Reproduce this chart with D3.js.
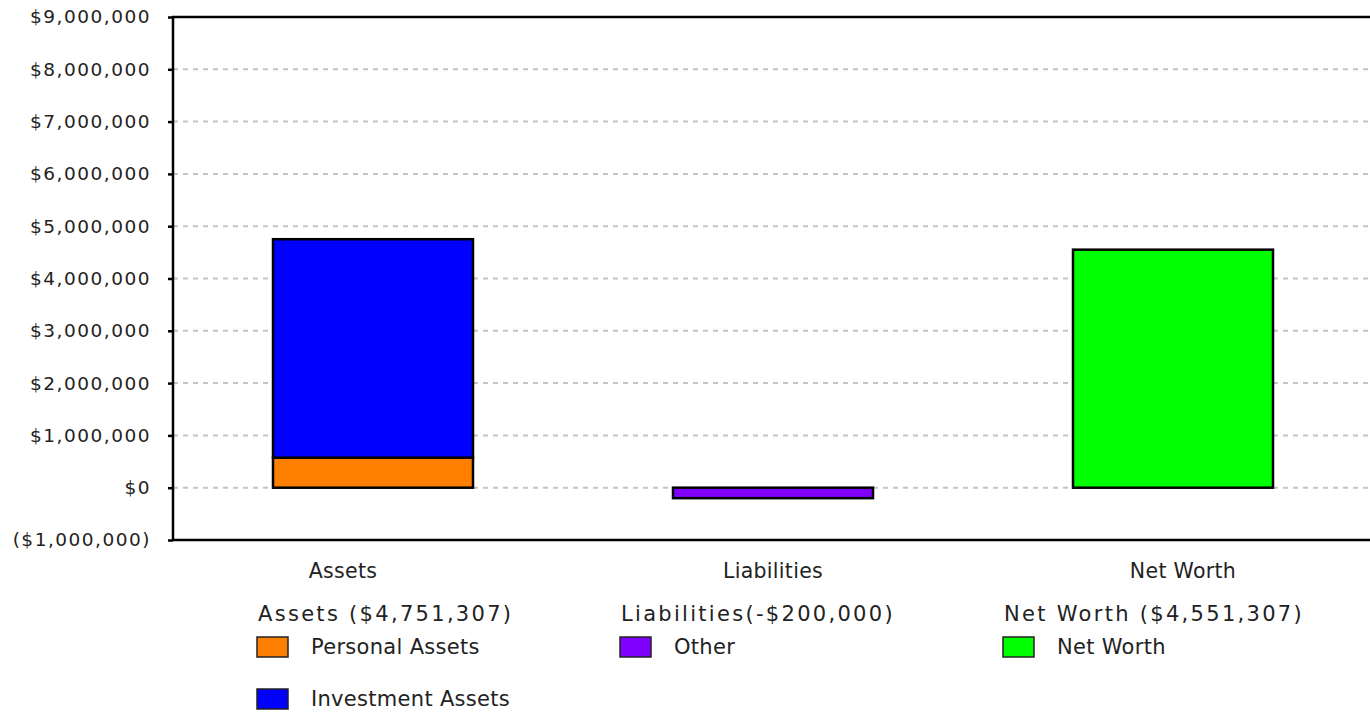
<!DOCTYPE html>
<html>
<head>
<meta charset="utf-8">
<script src="https://cdn.jsdelivr.net/npm/d3@7"></script>
<style>
  body { margin: 0; background: #fff; }
  text { font-family: "DejaVu Sans", Verdana, sans-serif; fill: #222; }
</style>
</head>
<body>
<script>
// chart data
const categories = ["Assets", "Liabilities", "Net Worth"];
const seriesNames = ["Personal Assets", "Investment Assets", "Other", "Net Worth"];
const seriesCategory = ["Assets", "Assets", "Liabilities", "Net Worth"];
const seriesValues = [575000, 4176307, -200000, 4551307];
const seriesColors = ["#ff8000", "#0000ff", "#8000ff", "#00ff00"];
const groupTitles = ["Assets ($4,751,307)", "Liabilities(-$200,000)", "Net Worth ($4,551,307)"];
const yTicks = [-1000000, 0, 1000000, 2000000, 3000000, 4000000, 5000000, 6000000, 7000000, 8000000, 9000000];

const W = 1370, H = 714;
const plotLeft = 173, plotTop = 17, plotBottom = 540;

let svg = d3.select("body").append("svg")
  .attr("width", W)
  .attr("height", H);

let y = d3.scaleLinear().domain([-1000000, 9000000]).range([plotBottom, plotTop]);
let x = d3.scaleBand().domain(categories).range([plotLeft, plotLeft + 1200])
  .paddingInner(0.5).paddingOuter(0.25);

const money = v => v < 0 ? "($" + d3.format(",")(-v) + ")" : "$" + d3.format(",")(v);

// gridlines
svg.selectAll()
  .data(yTicks.filter(t => t > -1000000 && t < 9000000))
  .enter()
  .append("line")
  .attr("x1", plotLeft).attr("x2", W)
  .attr("y1", d => y(d)).attr("y2", d => y(d))
  .attr("stroke", "#c4c4c4")
  .attr("stroke-width", 2)
  .attr("stroke-dasharray", "5,5");

// y axis
let yAxis = svg.append("g")
  .attr("transform", `translate(${plotLeft},0)`)
  .call(d3.axisLeft(y).tickValues(yTicks).tickFormat(money).tickSize(5).tickPadding(17));
yAxis.select(".domain").remove();
yAxis.selectAll(".tick line").attr("stroke", "#000").attr("stroke-width", 2.5);
yAxis.selectAll(".tick text")
  .attr("font-size", "18.5px")
  .attr("letter-spacing", "1.5px")
  .style("font-family", "DejaVu Sans")
  .attr("fill", "#222");

// frame
svg.append("path")
  .attr("d", `M${W},${plotTop}H${plotLeft}V${plotBottom}H${W}`)
  .attr("fill", "none")
  .attr("stroke", "#000")
  .attr("stroke-width", 2.5);

// stacked bars
let stackPos = {};
let bars = seriesValues.map((v, i) => {
  const c = seriesCategory[i];
  const base = stackPos[c] || 0;
  stackPos[c] = base + v;
  return { cat: c, y0: base, y1: base + v, color: seriesColors[i] };
});

svg.selectAll()
  .data(bars)
  .enter()
  .append("rect")
  .attr("x", d => x(d.cat))
  .attr("width", x.bandwidth())
  .attr("y", d => y(Math.max(d.y0, d.y1)))
  .attr("height", d => Math.abs(y(d.y0) - y(d.y1)))
  .attr("fill", d => d.color)
  .attr("stroke", "#000")
  .attr("stroke-width", 2.5);

// category labels
const labelShift = { "Assets": -30, "Liabilities": 0, "Net Worth": 10 };
svg.selectAll()
  .data(categories)
  .enter()
  .append("text")
  .attr("x", d => x(d) + x.bandwidth() / 2 + labelShift[d])
  .attr("y", 578)
  .attr("text-anchor", "middle")
  .attr("font-size", "20.5px")
  .attr("letter-spacing", "0.3px")
  .text(d => d);

// legend
const groupX = [256, 619, 1002];
categories.forEach((c, gi) => {
  let g = svg.append("g").attr("transform", `translate(${groupX[gi]},0)`);
  g.append("text")
    .attr("x", 2).attr("y", 621)
    .attr("font-size", "21px")
    .attr("letter-spacing", "2.3px")
    .text(groupTitles[gi]);
  let items = seriesNames.map((n, i) => ({ n, i })).filter(d => seriesCategory[d.i] === c);
  items.forEach((d, k) => {
    const cy = 647 + k * 52;
    g.append("rect")
      .attr("x", 1).attr("y", cy - 10)
      .attr("width", 31).attr("height", 20)
      .attr("fill", seriesColors[d.i])
      .attr("stroke", "#222")
      .attr("stroke-width", 1.5);
    g.append("text")
      .attr("x", 55).attr("y", cy + 7)
      .attr("font-size", "21px")
      .attr("letter-spacing", "0.3px")
      .text(d.n);
  });
});
</script>
</body>
</html>
